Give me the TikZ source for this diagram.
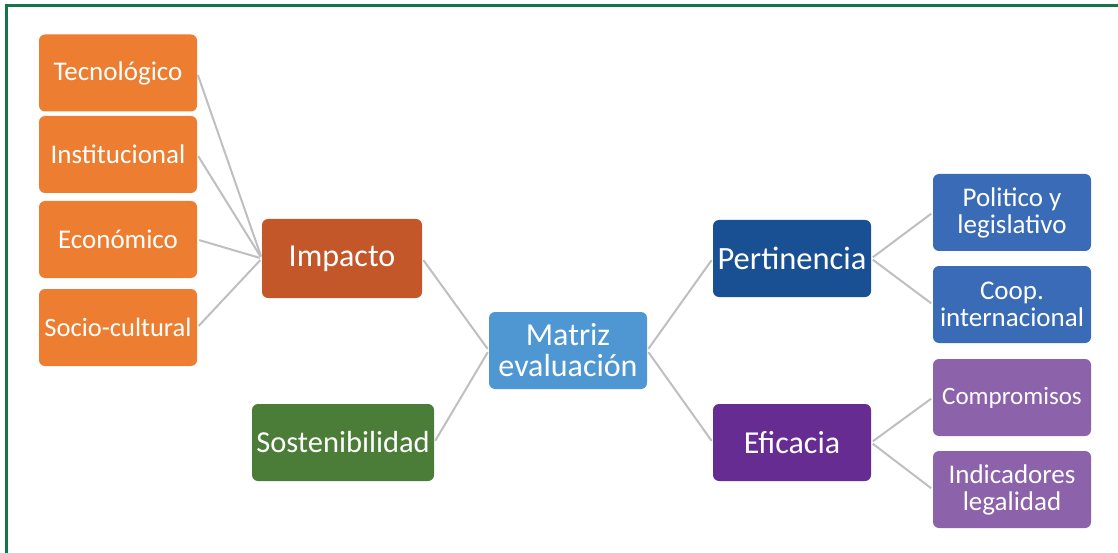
\documentclass[tikz,border=0pt]{standalone}
\usepackage{fontspec}
\setmainfont{Carlito}
\definecolor{cOrange}{HTML}{ED7D31}
\definecolor{cImpact}{HTML}{C4572A}
\definecolor{cSost}{HTML}{4B7C38}
\definecolor{cMatriz}{HTML}{4E97D2}
\definecolor{cPert}{HTML}{194F93}
\definecolor{cPolit}{HTML}{3A6BB6}
\definecolor{cEfic}{HTML}{672C91}
\definecolor{cComp}{HTML}{8C62AA}
\definecolor{cBorder}{HTML}{17734A}
\definecolor{cLine}{HTML}{BFBFBF}
\tikzset{
  box/.style={rounded corners=6pt, minimum width=158pt, minimum height=77pt,
    inner sep=0pt, text=white, align=center},
  fsmall/.style={font=\fontsize{27}{27}\selectfont},
  fbig/.style={font=\fontsize{32}{31}\selectfont},
  conn/.style={draw=cLine, line width=2pt, shorten >=2pt, shorten <=2pt},
}
\begin{document}
\begin{tikzpicture}[x=1pt,y=-1pt]
\useasboundingbox (0,0) rectangle (1118,553);
\draw[cBorder, line width=2.5pt] (6.5,553) -- (6.5,5.5) -- (1118,5.5);

\node[box, fsmall, fill=cOrange] (tec) at (118,73) {Tecnológico};
\node[box, fsmall, fill=cOrange] (ins) at (118,154.5) {Institucional};
\node[box, fsmall, fill=cOrange] (eco) at (118,239.5) {Económico};
\node[box, font=\fontsize{26.5}{27}\selectfont, fill=cOrange] (soc) at (118,327.5) {Socio-cultural};

\node[box, fbig, fill=cImpact, minimum width=160pt, minimum height=79pt] (imp) at (342,258.5) {Impacto};
\node[box, font=\fontsize{30.5}{30}\selectfont, fill=cSost, minimum width=182pt] (sos) at (343,442.5) {Sostenibilidad};
\node[box, fbig, fill=cMatriz] (mat) at (568,350.5) {Matriz\\evaluación};
\node[box, font=\fontsize{32.5}{31}\selectfont, fill=cPert] (per) at (792,258.5) {Pertinencia};
\node[box, fbig, fill=cEfic] (efi) at (792,442.5) {Eficacia};

\node[box, font=\fontsize{27}{27}\selectfont, fill=cPolit] (pol) at (1012,212.5) {Politico y\\legislativo};
\node[box, font=\fontsize{27}{27}\selectfont, fill=cPolit] (coo) at (1012,304.5) {Coop.\\internacional};
\node[box, font=\fontsize{25}{25}\selectfont, fill=cComp] (com) at (1012,397.5) {Compromisos};
\node[box, font=\fontsize{27}{27}\selectfont, fill=cComp] (ind) at (1012,489.5) {Indicadores\\legalidad};

\draw[conn] (imp.west) -- (tec.east);
\draw[conn] (imp.west) -- (ins.east);
\draw[conn] (imp.west) -- (eco.east);
\draw[conn] (imp.west) -- (soc.east);
\draw[conn] (mat.west) -- (imp.east);
\draw[conn] (mat.west) -- (sos.east);
\draw[conn] (mat.east) -- (per.west);
\draw[conn] (mat.east) -- (efi.west);
\draw[conn] (per.east) -- (pol.west);
\draw[conn] (per.east) -- (coo.west);
\draw[conn] (efi.east) -- (com.west);
\draw[conn] (efi.east) -- (ind.west);
\end{tikzpicture}
\end{document}
